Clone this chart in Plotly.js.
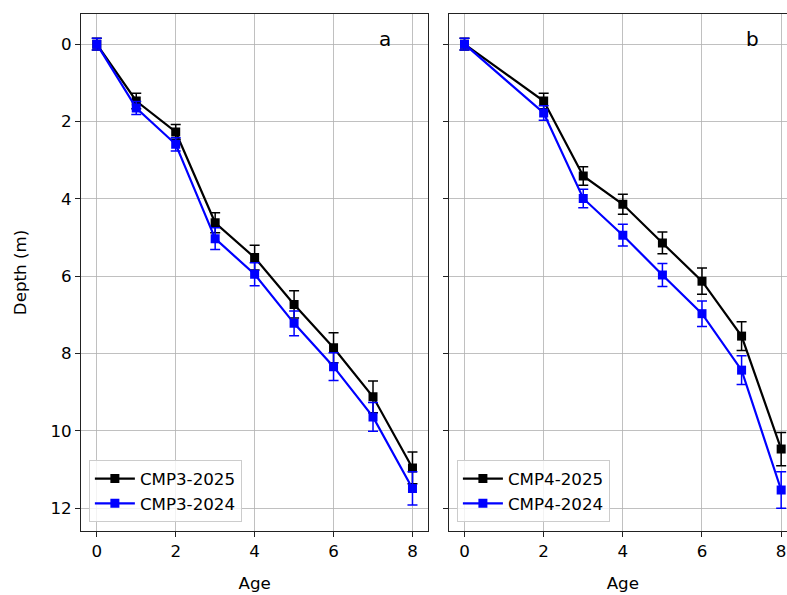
<!DOCTYPE html>
<html>
<head>
<meta charset="utf-8">
<script src="https://cdn.plot.ly/plotly-3.0.1.min.js"></script>
<style>
  html, body { margin: 0; padding: 0; overflow: hidden; background: #fff; }
  #chart { width: 800px; height: 595px; }
</style>
</head>
<body>
<div id="chart"></div>
<script>
// Panel a (CMP3)
const agesA = [0, 1, 2, 3, 4, 5, 6, 7, 8];
const cmp3_2025 = [0, 1.47, 2.27, 4.62, 5.52, 6.73, 7.85, 9.12, 10.96];
const cmp3_2025_err = [0.15, 0.2, 0.19, 0.26, 0.32, 0.35, 0.39, 0.41, 0.41];
const cmp3_2024 = [0, 1.65, 2.59, 5.03, 5.95, 7.22, 8.34, 9.64, 11.49];
const cmp3_2024_err = [0.15, 0.17, 0.17, 0.28, 0.3, 0.32, 0.36, 0.37, 0.43];

// Panel b (CMP4)
const agesB = [0, 2, 3, 4, 5, 6, 7, 8];
const cmp4_2025 = [0, 1.47, 3.41, 4.14, 5.14, 6.13, 7.55, 10.47];
const cmp4_2025_err = [0.15, 0.2, 0.24, 0.26, 0.28, 0.34, 0.37, 0.43];
const cmp4_2024 = [0, 1.78, 3.99, 4.94, 5.97, 6.97, 8.43, 11.53];
const cmp4_2024_err = [0.15, 0.19, 0.24, 0.28, 0.3, 0.33, 0.37, 0.47];

const xTicks = [0, 2, 4, 6, 8];
const yTicks = [0, 2, 4, 6, 8, 10, 12];

const FONT = 'DejaVu Sans, sans-serif';

function series(x, y, err, name, color, xa, ya, legend) {
  return {
    x: x, y: y, name: name, type: 'scatter', mode: 'lines+markers',
    xaxis: xa, yaxis: ya, legend: legend,
    line: {color: color, width: 2.2},
    marker: {symbol: 'square', size: 9, color: color},
    error_y: {type: 'data', array: err, visible: true, color: color, thickness: 1.5, width: 5}
  };
}

const data = [
  series(agesA, cmp3_2025, cmp3_2025_err, 'CMP3-2025', '#000000', 'x', 'y', 'legend'),
  series(agesA, cmp3_2024, cmp3_2024_err, 'CMP3-2024', '#0000ff', 'x', 'y', 'legend'),
  series(agesB, cmp4_2025, cmp4_2025_err, 'CMP4-2025', '#000000', 'x2', 'y2', 'legend2'),
  series(agesB, cmp4_2024, cmp4_2024_err, 'CMP4-2024', '#0000ff', 'x2', 'y2', 'legend2')
];

const axisCommon = {
  showline: true, linecolor: '#222', linewidth: 1, mirror: true,
  ticks: 'outside', ticklen: 5, tickwidth: 1, tickcolor: '#222',
  showgrid: true, gridcolor: '#b0b0b0', gridwidth: 0.8,
  zeroline: false,
  tickfont: {family: FONT, size: 16.7, color: '#000'}
};

const legendCommon = {
  xanchor: 'left', yanchor: 'bottom',
  bgcolor: 'rgba(255,255,255,0.8)', bordercolor: '#cccccc', borderwidth: 1,
  font: {family: FONT, size: 16.7, color: '#000'},
  tracegroupgap: 0, itemwidth: 40
};

const layout = {
  width: 800, height: 595,
  margin: {l: 81, r: 3, t: 14, b: 64},
  paper_bgcolor: '#fff', plot_bgcolor: '#fff',
  showlegend: true,
  font: {family: FONT, size: 16.7, color: '#000'},
  xaxis: Object.assign({}, axisCommon, {
    domain: [0, 0.485], range: [-0.4, 8.4], tickvals: xTicks,
    title: {text: 'Age', font: {family: FONT, size: 16.7}, standoff: 17}
  }),
  yaxis: Object.assign({}, axisCommon, {
    range: [12.59, -0.78], tickvals: yTicks,
    title: {text: 'Depth (m)', font: {family: FONT, size: 16.7}, standoff: 19}
  }),
  xaxis2: Object.assign({}, axisCommon, {
    domain: [0.5135, 1], range: [-0.4, 8.4], tickvals: xTicks, anchor: 'y2',
    title: {text: 'Age', font: {family: FONT, size: 16.7}, standoff: 17}
  }),
  yaxis2: Object.assign({}, axisCommon, {
    range: [12.59, -0.78], tickvals: yTicks, anchor: 'x2', showticklabels: false
  }),
  legend: Object.assign({}, legendCommon, {x: 0.011, y: 0.017}),
  legend2: Object.assign({}, legendCommon, {x: 0.525, y: 0.017}),
  annotations: [
    {text: 'a', xref: 'x domain', yref: 'y domain', x: 0.898, y: 0.979,
     showarrow: false, font: {family: FONT, size: 20, color: '#000'}},
    {text: 'b', xref: 'x2 domain', yref: 'y2 domain', x: 0.898, y: 0.979,
     showarrow: false, font: {family: FONT, size: 20, color: '#000'}}
  ]
};

Plotly.newPlot('chart', data, layout, {displayModeBar: false, staticPlot: true});
</script>
</body>
</html>
